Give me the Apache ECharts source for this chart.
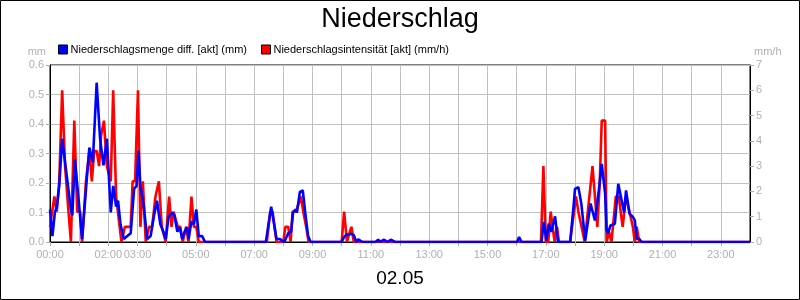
<!DOCTYPE html>
<html><head><meta charset="utf-8">
<script src="https://cdn.jsdelivr.net/npm/echarts@6/dist/echarts.min.js"></script>
<style>html,body{margin:0;padding:0;background:#fff}#c{width:800px;height:300px}</style>
</head><body><div id="c"></div>
<script>
const titleText = "Niederschlag";
const dateLabel = "02.05";
const seriesNames = ["Niederschlagsmenge diff. [akt] (mm)", "Niederschlagsintensität [akt] (mm/h)"];
const shownHours = [0,2,3,5,7,9,11,13,15,17,19,21,23];

// minutes since 00:00
const blueTimes = [0,5,10,14,19,25,34,43,46,51,58,66,75,81,88,96,103,110,117,125,130,136,140,145,152,159,166,173,178,182,186,193,200,207,214,220,227,232,238,244,251,256,262,267,272,277,282,285,291,296,301,306,313,319,
  444,455,466,473,482,490,496,500,505,508,514,520,525,531,536,
  600,605,610,615,620,625,630,634,638,643,
  670,675,680,686,690,695,701,705,710,
  961,965,970,
  1011,1016,1021,1026,1031,1039,1045,
  1070,1077,1080,1087,1093,1101,1112,1121,1129,1135,1142,1145,1148,1153,1162,1169,1176,1181,1185,1192,1199,1203,1207,1212,1217,
  1440];
const blueValues = [0.11,0.02,0.10,0.12,0.19,0.35,0.23,0.11,0.09,0.28,0.16,0.01,0.20,0.32,0.27,0.54,0.35,0.26,0.35,0.10,0.19,0.12,0.14,0.06,0.01,0.02,0.03,0.18,0.19,0.31,0.19,0.12,0.01,0.02,0.09,0.14,0.06,0.04,0.01,0.085,0.10,0.09,0.035,0.05,0.01,0.035,0.05,0.01,0.07,0.06,0.11,0.02,0.02,0,
  0,0.12,0.01,0.01,0,0.03,0.035,0.10,0.11,0.10,0.17,0.175,0.10,0.02,0,
  0,0.017,0.025,0.025,0.028,0.023,0,0.009,0.009,0,
  0,0.008,0,0.008,0.008,0,0.008,0.008,0,
  0,0.017,0,
  0,0.068,0.005,0.062,0.034,0.087,0,
  0,0.12,0.18,0.186,0.13,0.005,0.13,0.073,0.175,0.265,0.164,0.04,0.03,0.056,0.062,0.197,0.141,0.10,0.175,0.096,0.085,0.073,0.011,0.011,0,
  0];

const redTimes = [0,9,14,19,25,31,38,43,50,56,62,66,74,81,86,91,96,101,105,111,117,121,125,130,136,140,147,154,161,166,170,175,181,186,191,197,204,210,217,224,230,238,245,250,254,258,263,268,273,280,285,291,296,301,306,
  446,453,458,466,480,484,490,495,499,506,516,521,527,532,
  600,605,611,615,620,625,
  1010,1015,1020,1025,1030,1033,1038,1043,1047,
  1070,1082,1087,1091,1100,1116,1126,1131,1135,1142,1145,1150,1155,1164,1170,1178,1185,1192,1199,1203,1207,1212,
  1440];
const redValues = [0.6,1.8,1.2,2.4,6.0,3.0,1.2,0,4.8,1.2,1.2,0,2.4,3.6,2.4,3.6,3.6,3.0,4.2,4.8,3.0,3.0,2.4,6.0,1.8,1.8,0,0.6,0.6,0.6,2.4,2.4,6.0,0.6,2.4,0,0.6,0.6,1.8,2.4,0.6,0,1.8,0.6,1.2,1.2,0.6,0.6,0,0.6,0,1.8,0.6,0.6,0,
  0,1.2,1.2,0,0,0.6,0.6,0,1.2,1.2,1.8,1.2,0.6,0,
  0,1.2,0,0.3,0.6,0,
  0,3.0,0,0,1.2,1.2,0,0.6,0,
  0,1.8,1.2,1.2,0,3.0,0.6,2.4,4.8,4.8,0,0.4,0,1.8,1.8,0.6,1.8,1.2,0.6,0,0.6,0,
  0];

const blueData = blueTimes.map((t,i)=>[t, blueValues[i]]);
const redData = redTimes.map((t,i)=>[t, redValues[i]]);
const grey = '#b0b0b0';
const chart = echarts.init(document.getElementById('c'), null, {renderer:'canvas'});
chart.setOption({
  animation:false,
  backgroundColor:'#fff',
  textStyle:{fontFamily:'Liberation Sans, Arial, sans-serif'},
  title:{text:titleText,left:'center',top:1,textStyle:{fontSize:27,fontWeight:'normal',color:'#000',fontFamily:'Liberation Sans, Arial, sans-serif'}},
  legend:{left:53,top:39,itemWidth:9,itemHeight:9,itemGap:14,icon:'rect',
    textStyle:{fontSize:11,color:'#000',padding:[0,0,0,-2]},
    data:[{name:seriesNames[0],itemStyle:{color:'#0000ff',borderColor:'#000',borderWidth:1}},
          {name:seriesNames[1],itemStyle:{color:'#ff0000',borderColor:'#000',borderWidth:1}}]},
  grid:{left:50,right:50,top:65,bottom:58,show:true,borderColor:'#000',borderWidth:1},
  xAxis:{type:'value',min:0,max:1440,interval:60,
    name:dateLabel,nameLocation:'middle',nameGap:27,nameTextStyle:{fontSize:19,color:'#000'},
    axisLine:{lineStyle:{color:'#000'}},
    axisTick:{show:true,length:4,lineStyle:{color:grey}},
    splitLine:{show:true,lineStyle:{color:'#c0c0c0',width:1}},
    axisLabel:{color:grey,fontSize:11,margin:7,showMaxLabel:false,
      formatter:v=>{const h=Math.round(v/60);return shownHours.includes(h)?String(h).padStart(2,'0')+':00':'';}}},
  yAxis:[
    {type:'value',min:0,max:0.6,interval:0.1,name:'mm',nameGap:8,nameTextStyle:{color:grey,fontSize:11,align:'right',padding:[0,4,0,0]},
      axisLine:{show:true,lineStyle:{color:'#000'}},axisTick:{show:true,length:4,lineStyle:{color:grey}},
      axisLabel:{color:grey,fontSize:11,margin:6,formatter:v=>v.toFixed(1)},
      splitLine:{show:true,lineStyle:{color:'#c0c0c0',width:1}}},
    {type:'value',min:0,max:7,interval:1,name:'mm/h',nameGap:8,nameTextStyle:{color:grey,fontSize:11,align:'left',padding:[0,0,0,4]},
      axisLine:{show:true,lineStyle:{color:'#000'}},axisTick:{show:true,length:4,lineStyle:{color:grey}},
      axisLabel:{color:grey,fontSize:11,margin:6},
      splitLine:{show:false}}
  ],
  series:[
    {name:seriesNames[1],type:'line',yAxisIndex:1,data:redData,showSymbol:false,symbol:'none',
      lineStyle:{color:'#ff0000',width:2.6},itemStyle:{color:'#ff0000'},z:2},
    {name:seriesNames[0],type:'line',yAxisIndex:0,data:blueData,showSymbol:false,symbol:'none',
      lineStyle:{color:'#0000ff',width:2.6},itemStyle:{color:'#0000ff'},z:3}
  ],
  graphic:[{type:'rect',shape:{x:0.5,y:0.5,width:799,height:299},style:{fill:'none',stroke:'#000',lineWidth:1},z:100}]
});
</script></body></html>
